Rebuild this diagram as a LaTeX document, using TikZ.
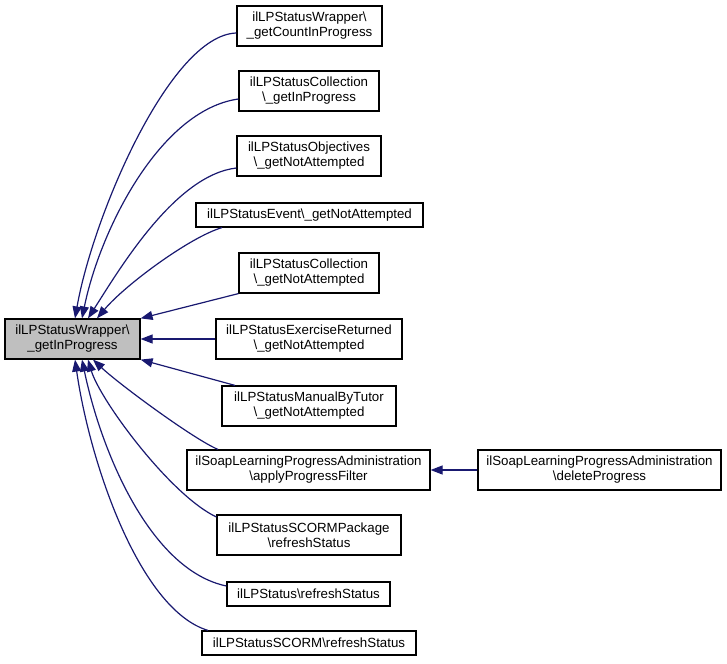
\documentclass[tikz,border=0pt]{standalone}
\usepackage{fontspec}
\setmainfont{Liberation Sans}
\usetikzlibrary{arrows.meta}
\definecolor{edgeblue}{HTML}{191970}
\definecolor{maingray}{HTML}{BFBFBF}
\begin{document}
\begin{tikzpicture}[x=1pt,y=-1pt,
  box/.style={draw=black,line width=1.2pt,inner sep=0pt,align=center,
    font=\fontsize{13.3}{15}\selectfont,minimum height=40pt},
  onebox/.style={box,minimum height=24pt},
  mainbox/.style={box,fill=maingray},
  edge/.style={draw=edgeblue,line width=1.2pt,
    -{Triangle[length=12pt,width=9pt]}}]
\useasboundingbox (0,0) rectangle (727,663);
\node[mainbox,minimum width=135pt] (main) at (72.5,339) {ilLPStatusWrapper\textbackslash\\\_getInProgress};
\node[box,minimum width=145pt] (n1) at (309.5,26) {ilLPStatusWrapper\textbackslash\\\_getCountInProgress};
\node[box,minimum width=140pt] (n2) at (309,91) {ilLPStatusCollection\\\textbackslash\_getInProgress};
\node[box,minimum width=144pt] (n3) at (309,156) {ilLPStatusObjectives\\\textbackslash\_getNotAttempted};
\node[onebox,minimum width=227pt] (n4) at (309.5,215) {ilLPStatusEvent\textbackslash\_getNotAttempted};
\node[box,minimum width=140pt] (n5) at (309,273) {ilLPStatusCollection\\\textbackslash\_getNotAttempted};
\node[box,minimum width=186pt] (n6) at (309,339) {ilLPStatusExerciseReturned\\\textbackslash\_getNotAttempted};
\node[box,minimum width=174pt] (n7) at (309,406) {ilLPStatusManualByTutor\\\textbackslash\_getNotAttempted};
\node[box,minimum width=243pt] (n8) at (308.5,470) {ilSoapLearningProgressAdministration\\\textbackslash applyProgressFilter};
\node[box,minimum width=184pt] (n9) at (309,535) {ilLPStatusSCORMPackage\\\textbackslash refreshStatus};
\node[onebox,minimum width=163pt] (n10) at (308.5,594) {ilLPStatus\textbackslash refreshStatus};
\node[onebox,minimum width=214pt] (n11) at (309,643) {ilLPStatusSCORM\textbackslash refreshStatus};
\node[box,minimum width=243pt] (n12) at (599.5,470) {ilSoapLearningProgressAdministration\\\textbackslash deleteProgress};

\draw[edge] (n1.west |- 0,33) .. controls (170,35) and (93,216) .. (main.north west -| 75,0);
\draw[edge] (n2.west |- 0,99) .. controls (160,110) and (100,230) .. (main.north west -| 82,0);
\draw[edge] (n3.west |- 0,168) .. controls (175,175) and (119,270) .. (main.north west -| 88,0);
\draw[edge] (n4.south west -| 222,0) .. controls (190,237) and (125,285) .. (main.north west -| 97,0);
\draw[edge] (n5.south west) -- (main.north east);
\draw[edge] (n6.west) -- (main.east);
\draw[edge] (n7.north west -| 235,0) -- (main.south east);
\draw[edge] (n8.north west -| 218,0) .. controls (195,440) and (120,385) .. (main.south west -| 93,0);
\draw[edge] (n9.west |- 0,517) .. controls (170,495) and (100,400) .. (main.south west -| 88,0);
\draw[edge] (n10.west |- 0,586) .. controls (150,570) and (101,451) .. (main.south west -| 82,0);
\draw[edge] (n11.north west -| 208,0) .. controls (140,610) and (90,464) .. (main.south west -| 75,0);
\draw[edge] (n12.west) -- (n8.east);
\end{tikzpicture}
\end{document}
